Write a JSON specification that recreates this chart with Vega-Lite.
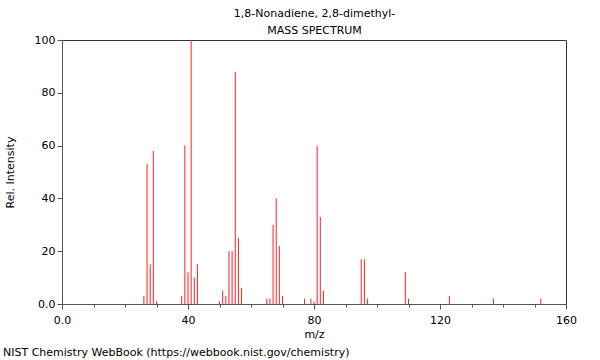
{
  "$schema": "https://vega.github.io/schema/vega-lite/v6.json",
  "autosize": {"type": "none"},
  "width": 504,
  "height": 264,
  "padding": {"left": 62, "top": 40, "right": 34, "bottom": 56},
  "background": "white",
  "config": {
    "font": "DejaVu Sans",
    "view": {"stroke": "#333333", "strokeWidth": 1},
    "axis": {
      "labelFont": "DejaVu Sans",
      "titleFont": "DejaVu Sans",
      "labelFontSize": 11,
      "titleFontSize": 11,
      "titleFontWeight": "normal",
      "labelColor": "#000000",
      "titleColor": "#000000",
      "domainColor": "#555555",
      "tickColor": "#555555",
      "grid": false
    }
  },
  "title": {
    "text": "NIST Chemistry WebBook (https://webbook.nist.gov/chemistry)",
    "orient": "bottom",
    "anchor": "start",
    "frame": "bounds",
    "font": "DejaVu Sans",
    "fontSize": 11,
    "fontWeight": "normal",
    "color": "#000000",
    "offset": 8,
    "dx": -1
  },
  "data": {
    "values": [
      {"mz": 26, "intensity": 3},
      {"mz": 27, "intensity": 53},
      {"mz": 28, "intensity": 15},
      {"mz": 29, "intensity": 58},
      {"mz": 30, "intensity": 1},
      {"mz": 38, "intensity": 3},
      {"mz": 39, "intensity": 60},
      {"mz": 40, "intensity": 12},
      {"mz": 41, "intensity": 100},
      {"mz": 42, "intensity": 10},
      {"mz": 43, "intensity": 15},
      {"mz": 50, "intensity": 1},
      {"mz": 51, "intensity": 5},
      {"mz": 52, "intensity": 3},
      {"mz": 53, "intensity": 20},
      {"mz": 54, "intensity": 20},
      {"mz": 55, "intensity": 88},
      {"mz": 56, "intensity": 25},
      {"mz": 57, "intensity": 6},
      {"mz": 65, "intensity": 2},
      {"mz": 66, "intensity": 2},
      {"mz": 67, "intensity": 30},
      {"mz": 68, "intensity": 40},
      {"mz": 69, "intensity": 22},
      {"mz": 70, "intensity": 3},
      {"mz": 77, "intensity": 2},
      {"mz": 79, "intensity": 2},
      {"mz": 80, "intensity": 1},
      {"mz": 81, "intensity": 60},
      {"mz": 82, "intensity": 33},
      {"mz": 83, "intensity": 5},
      {"mz": 95, "intensity": 17},
      {"mz": 96, "intensity": 17},
      {"mz": 97, "intensity": 2},
      {"mz": 109, "intensity": 12},
      {"mz": 110, "intensity": 2},
      {"mz": 123, "intensity": 3},
      {"mz": 137, "intensity": 2},
      {"mz": 152, "intensity": 2}
    ]
  },
  "layer": [
    {
      "mark": {"type": "rule", "color": "#ff2020", "strokeWidth": 1},
      "encoding": {
        "x": {
          "field": "mz",
          "type": "quantitative",
          "scale": {"domain": [0, 160], "nice": false, "zero": false},
          "axis": {
            "orient": "bottom",
            "title": "m/z",
            "values": [0, 10, 20, 30, 40, 50, 60, 70, 80, 90, 100, 110, 120, 130, 140, 150, 160],
            "labelExpr": "datum.value === 0 ? '0.0' : (datum.value % 40 === 0 ? datum.label : '')",
            "tickSize": {"condition": {"test": "datum.value % 40 === 0", "value": 5}, "value": 3},
            "labelPadding": 5,
            "titlePadding": 3,
            "labelFlush": false,
            "labelOverlap": false
          }
        },
        "y": {
          "field": "intensity",
          "type": "quantitative",
          "scale": {"domain": [0, 100], "nice": false},
          "axis": {
            "title": "Rel. Intensity",
            "values": [0, 5, 10, 15, 20, 25, 30, 35, 40, 45, 50, 55, 60, 65, 70, 75, 80, 85, 90, 95, 100],
            "labelExpr": "datum.value === 0 ? '0.0' : (datum.value % 20 === 0 ? datum.label : '')",
            "tickSize": {"condition": {"test": "datum.value % 20 === 0", "value": 5}, "value": 3},
            "labelPadding": 2,
            "titlePadding": 19,
            "labelFlush": false,
            "labelOverlap": false
          }
        },
        "y2": {"datum": 0}
      }
    },
    {
      "mark": {"type": "rule", "opacity": 0},
      "encoding": {
        "x": {
          "field": "mz",
          "type": "quantitative",
          "axis": {
            "orient": "top",
            "domain": false,
            "ticks": false,
            "labels": false,
            "title": ["1,8-Nonadiene, 2,8-dimethyl-", "MASS SPECTRUM"],
            "titleLineHeight": 17,
            "titlePadding": 5
          }
        },
        "y": {"field": "intensity", "type": "quantitative"},
        "y2": {"datum": 0}
      }
    }
  ]
}
